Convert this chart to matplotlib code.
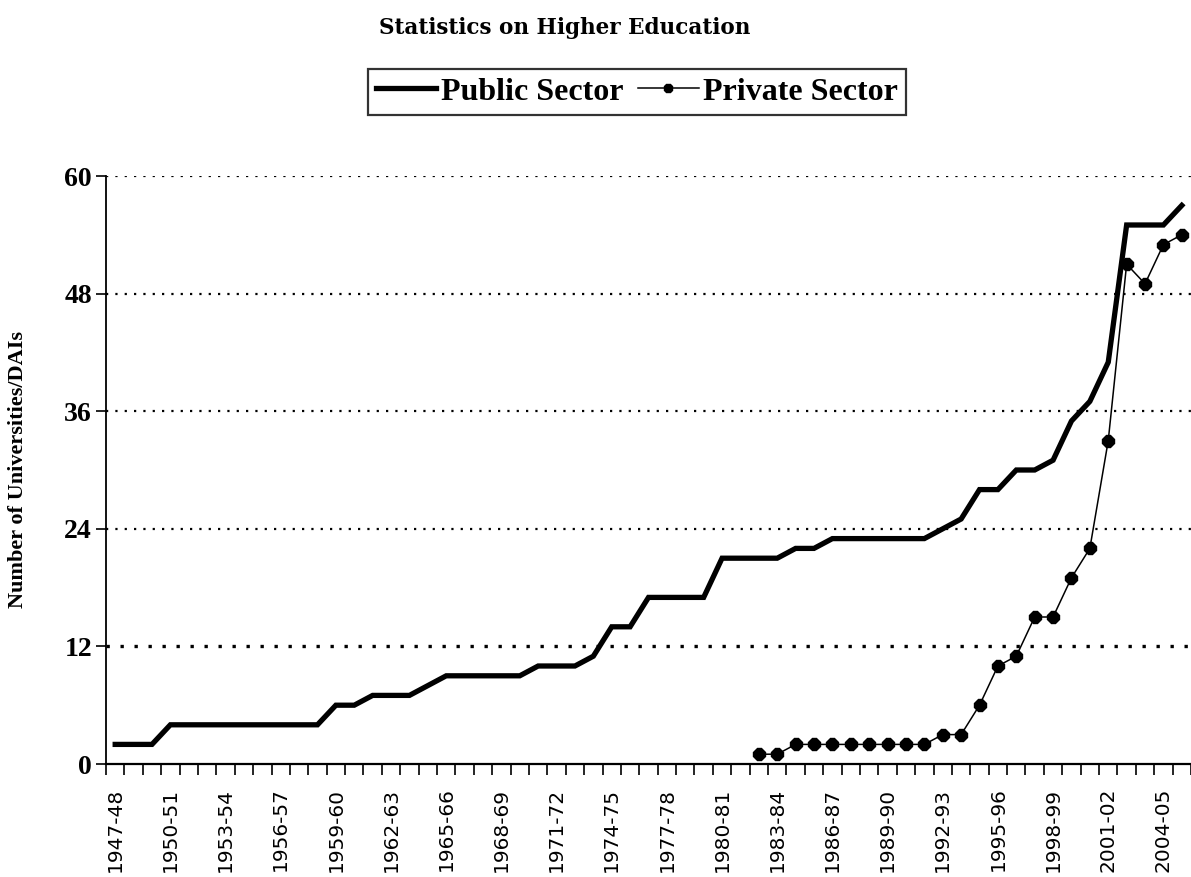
import matplotlib
matplotlib.use('Agg')
import matplotlib.pyplot as plt
import numpy as np

# Datos: universidades / DAIs por sector
seasons = ['1947-48', '1948-49', '1949-50', '1950-51', '1951-52', '1952-53', '1953-54',
           '1954-55', '1955-56', '1956-57', '1957-58', '1958-59', '1959-60', '1960-61',
           '1961-62', '1962-63', '1963-64', '1964-65', '1965-66', '1966-67', '1967-68',
           '1968-69', '1969-70', '1970-71', '1971-72', '1972-73', '1973-74', '1974-75',
           '1975-76', '1976-77', '1977-78', '1978-79', '1979-80', '1980-81', '1981-82',
           '1982-83', '1983-84', '1984-85', '1985-86', '1986-87', '1987-88', '1988-89',
           '1989-90', '1990-91', '1991-92', '1992-93', '1993-94', '1994-95', '1995-96',
           '1996-97', '1997-98', '1998-99', '1999-00', '2000-01', '2001-02', '2002-03',
           '2003-04', '2004-05', '2005-06']

public_sector = [2, 2, 2, 4, 4, 4, 4, 4, 4, 4, 4, 4, 6, 6, 7, 7, 7, 8, 9, 9,
                 9, 9, 9, 10, 10, 10, 11, 14, 14, 17, 17, 17, 17, 21, 21, 21, 21, 22, 22, 23,
                 23, 23, 23, 23, 23, 24, 25, 28, 28, 30, 30, 31, 35, 37, 41, 55, 55, 55, 57]

# el sector privado empieza en 1982-83
private_start = '1982-83'
private_sector = [1, 1, 2, 2, 2, 2, 2, 2, 2, 2, 3, 3, 6, 10, 11, 15, 15, 19, 22, 33,
                  51, 49, 53, 54]

y_ticks = [0, 12, 24, 36, 48, 60]
label_every = 3

x_pub = np.arange(len(seasons))
x_priv = np.arange(len(private_sector)) + seasons.index(private_start)

fig = plt.figure(figsize=(11.91, 8.77), dpi=100)
ax = fig.add_axes([106 / 1191, 113 / 877, 1085 / 1191, 588 / 877])

# lineas de cuadricula punteadas
for v in y_ticks[1:]:
    lw = 2.4 if v == 12 else 1.6
    ax.axhline(v, color='black', lw=lw, linestyle=(0, (1, 3.2)), zorder=1)

ax.plot(x_pub, public_sector, color='black', lw=3.8, label='Public Sector', zorder=3,
        solid_joinstyle='miter')
ax.plot(x_priv, private_sector, color='black', lw=1.1, marker='8', markersize=9,
        label='Private Sector', zorder=4)

ax.set_xlim(-0.5, 58.15)
ax.set_ylim(0, 60)

for s in ['top', 'right']:
    ax.spines[s].set_visible(False)
ax.spines['left'].set_linewidth(1.3)
ax.spines['bottom'].set_linewidth(1.6)

# eje y
ax.set_yticks(y_ticks)
ax.set_yticklabels([str(v) for v in y_ticks], fontfamily='Liberation Serif',
                   fontweight='bold', fontsize=20)
ax.tick_params(axis='y', direction='out', length=7, width=1.2, pad=3)
ax.set_ylabel('Number of Universities/DAIs', fontfamily='Liberation Serif',
              fontweight='bold', fontsize=16, labelpad=26)

# eje x: marcas entre categorias, etiquetas cada 3
ax.set_xticks(np.arange(len(seasons) + 1) - 0.5)
ax.set_xticklabels([])
ax.tick_params(axis='x', which='major', direction='out', length=8, width=1.2)
ax.set_xticks(x_pub[::label_every], minor=True)
ax.set_xticklabels(seasons[::label_every], minor=True, rotation=90,
                   fontfamily='DejaVu Sans', fontsize=14.5)
ax.tick_params(axis='x', which='minor', length=0, pad=17)

fig.text(565 / 1191, 1 - 28 / 877, 'Statistics on Higher Education', ha='center', va='center',
         fontfamily='DejaVu Serif', fontweight='bold', fontsize=15.5)

leg = ax.legend(loc='center', bbox_to_anchor=(637 / 1191, 1 - 92 / 877),
                bbox_transform=fig.transFigure, ncol=2, frameon=True, fancybox=False,
                prop={'family': 'Liberation Serif', 'weight': 'bold', 'size': 23},
                handlelength=1.9, handletextpad=0.15, columnspacing=0.45,
                borderpad=0.25, borderaxespad=0, markerscale=0.7)
leg.get_frame().set_edgecolor('black')
leg.get_frame().set_linewidth(1.6)

plt.savefig('out.png', dpi=100)
